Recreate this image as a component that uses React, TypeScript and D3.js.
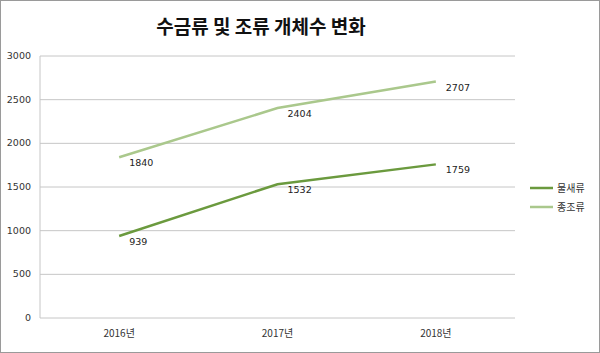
import React, { useEffect, useRef } from "react";
import * as d3 from "d3";

const years = ["2016년", "2017년", "2018년"];
const waterBirds = [939, 1532, 1759];
const speciesBirds = [1840, 2404, 2707];
const seriesNames = ["물새류", "종조류"];
const yTicks = [0, 500, 1000, 1500, 2000, 2500, 3000];

const colors = ["#6b9a3e", "#aac88c"];
const W = 600, H = 353;

export default function App() {
  const svgRef = useRef<SVGSVGElement | null>(null);

  useEffect(() => {
    const svg = d3.select(svgRef.current);
    svg.selectAll("*").remove();

    const margin = { top: 56, left: 40, right: 515, bottom: 318 };
    const font = "'Noto Sans CJK KR', 'DejaVu Sans', sans-serif";

    svg.append("rect").attr("x", 0.5).attr("y", 0.5).attr("width", W - 1).attr("height", H - 1)
      .attr("fill", "#fff").attr("stroke", "#9a9a9a");

    const x = d3.scalePoint().domain(years).range([margin.left, margin.right]).padding(0.5);
    const y = d3.scaleLinear().domain([0, 3000]).range([margin.bottom, margin.top]);

    // gridlines
    svg.append("g").selectAll("line").data(yTicks).enter().append("line")
      .attr("x1", margin.left).attr("x2", margin.right)
      .attr("y1", d => y(d)).attr("y2", d => y(d))
      .attr("stroke", "#c6c6c6").attr("stroke-width", 1);
    svg.append("line").attr("x1", margin.left).attr("x2", margin.left)
      .attr("y1", margin.top).attr("y2", margin.bottom).attr("stroke", "#c6c6c6");

    // y labels
    svg.append("g").selectAll("text").data(yTicks).enter().append("text")
      .attr("x", 31).attr("y", d => y(d) + 3)
      .attr("text-anchor", "end").attr("font-size", 9.5).attr("font-family", "'DejaVu Sans', sans-serif")
      .attr("fill", "#333").text(d => d);

    // x labels
    svg.append("g").selectAll("text").data(years).enter().append("text")
      .attr("x", d => x(d) as number).attr("y", 337)
      .attr("text-anchor", "middle").attr("font-size", 10).attr("font-family", font)
      .attr("fill", "#333").text(d => d);

    const line = d3.line<number>().x((_, i) => x(years[i]) as number).y(d => y(d));
    const series = [waterBirds, speciesBirds];
    series.forEach((s, k) => {
      svg.append("path").datum(s).attr("d", line).attr("fill", "none")
        .attr("stroke", colors[k]).attr("stroke-width", 2.5);
      svg.append("g").selectAll("text").data(s).enter().append("text")
        .attr("x", (_, i) => (x(years[i]) as number) + 10)
        .attr("y", d => y(d) + 9)
        .attr("font-size", 9.5).attr("font-family", "'DejaVu Sans', sans-serif")
        .attr("fill", "#222").text(d => d);
    });

    // legend
    seriesNames.forEach((n, k) => {
      const ly = 188 + k * 19;
      svg.append("line").attr("x1", 530).attr("x2", 553).attr("y1", ly).attr("y2", ly)
        .attr("stroke", colors[k]).attr("stroke-width", 2.5);
      svg.append("text").attr("x", 557).attr("y", ly + 4).attr("font-size", 10)
        .attr("font-family", font).attr("fill", "#333").text(n);
    });

    // title
    svg.append("text").attr("x", 261).attr("y", 34).attr("text-anchor", "middle")
      .attr("font-size", 19).attr("font-weight", "bold").attr("font-family", font)
      .attr("fill", "#111").text("수금류 및 조류 개체수 변화");
  }, []);

  return <svg ref={svgRef} width={W} height={H} style={{ position: "absolute", left: 0, top: 0 }} />;
}
